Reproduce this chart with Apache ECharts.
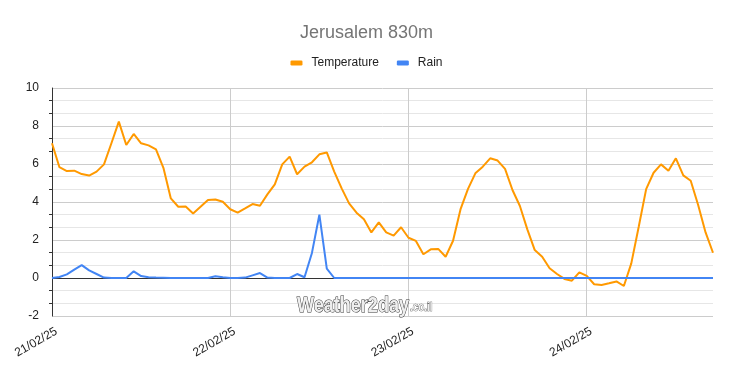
<!DOCTYPE html>
<html>
<head>
<meta charset="utf-8">
<script src="https://cdn.jsdelivr.net/npm/echarts@6/dist/echarts.min.js"></script>
<style>
html,body{margin:0;padding:0;background:#fff;}
#chart{width:733px;height:371px;}
</style>
</head>
<body>
<div id="chart"></div>
<script>
// Day labels (tick labels on the x axis) and hours per day
const dayLabels = ['21/02/25', '22/02/25', '23/02/25', '24/02/25'];
const hoursPerDay = 24;

// Hourly temperature (°C)
const temperature = [
  7.09, 5.83, 5.63, 5.65, 5.47, 5.39, 5.60, 5.98, 7.09, 8.23,
  7.00, 7.58, 7.09, 6.98, 6.77, 5.80, 4.19, 3.75, 3.76, 3.40,
  3.75, 4.10, 4.13, 4.01, 3.62, 3.44, 3.66, 3.89, 3.80, 4.40,
  4.93, 5.98, 6.39, 5.46, 5.86, 6.09, 6.51, 6.61, 5.60, 4.72,
  3.93, 3.44, 3.09, 2.40, 2.93, 2.40, 2.23, 2.67, 2.12, 1.95,
  1.25, 1.51, 1.53, 1.12, 1.96, 3.61, 4.68, 5.51, 5.86, 6.30,
  6.18, 5.74, 4.63, 3.79, 2.56, 1.47, 1.12, 0.51, 0.21, -0.05,
  -0.14, 0.30, 0.11, -0.33, -0.37, -0.28, -0.18, -0.42, 0.77, 2.70,
  4.68, 5.54, 5.98, 5.65, 6.30, 5.40, 5.12, 3.84, 2.40, 1.33
];

// Hourly rain (mm)
const rain = [
  0, 0.05, 0.19, 0.44, 0.68, 0.40, 0.21, 0.02, 0, 0,
  0, 0.35, 0.10, 0.04, 0.02, 0.01, 0, 0, 0, 0,
  0, 0, 0.09, 0.04, 0, 0, 0.02, 0.14, 0.26, 0.02,
  0, 0, 0, 0.21, 0.04, 1.32, 3.33, 0.49, 0, 0,
  0, 0, 0, 0, 0, 0, 0, 0, 0, 0,
  0, 0, 0, 0, 0, 0, 0, 0, 0, 0,
  0, 0, 0, 0, 0, 0, 0, 0, 0, 0,
  0, 0, 0, 0, 0, 0, 0, 0, 0, 0,
  0, 0, 0, 0, 0, 0, 0, 0, 0, 0
];

// Y axis ticks
const yMin = -2, yMax = 10, yStep = 2;

const categories = temperature.map((_, i) => {
  const d = Math.floor(i / hoursPerDay);
  const h = i % hoursPerDay;
  return dayLabels[d] + ' ' + String(h).padStart(2, '0') + ':00';
});

const FONT = '"Liberation Sans", Arial, sans-serif';
const chart = echarts.init(document.getElementById('chart'), null, {renderer: 'canvas'});

chart.setOption({
  animation: false,
  backgroundColor: '#ffffff',
  title: {
    text: 'Jerusalem 830m',
    left: 'center',
    top: 19,
    textStyle: {fontFamily: FONT, fontSize: 18, fontWeight: 'normal', color: '#757575'}
  },
  legend: {
    top: 52,
    left: 'center',
    icon: 'roundRect',
    itemWidth: 12,
    itemHeight: 5,
    itemGap: 18,
    textStyle: {fontFamily: FONT, fontSize: 12, color: '#222', padding: [0, 0, 0, 4]},
    data: ['Temperature', 'Rain']
  },
  grid: {left: 52, right: 20, top: 88, bottom: 55, containLabel: false},
  xAxis: {
    type: 'category',
    data: categories,
    boundaryGap: false,
    axisLine: {show: false, onZero: false},
    axisTick: {show: false},
    axisLabel: {
      interval: (idx) => idx % hoursPerDay === 0,
      formatter: (v) => v.split(' ')[0],
      rotate: 30,
      margin: 17,
      padding: [0, -5, 0, 0],
      fontFamily: FONT,
      fontSize: 12,
      color: '#222'
    },
    splitLine: {
      show: true,
      interval: (idx) => idx % hoursPerDay === 0,
      lineStyle: {color: '#cccccc', width: 1}
    }
  },
  yAxis: [
    {
      type: 'value',
      min: yMin, max: yMax, interval: yStep,
      axisLine: {show: true, lineStyle: {color: '#333', width: 1}},
      axisTick: {show: false},
      minorTick: {show: true, splitNumber: 3, length: 3, lineStyle: {color: '#333'}},
      axisLabel: {margin: 13, fontFamily: FONT, fontSize: 12, color: '#222'},
      splitLine: {show: true, lineStyle: {color: '#cccccc', width: 1}},
      minorSplitLine: {show: true, lineStyle: {color: '#e6e6e6', width: 1}}
    },
    {
      type: 'value',
      position: 'left',
      min: yMin, max: yMax, interval: yStep,
      axisLine: {show: false},
      axisTick: {show: false},
      minorTick: {show: true, splitNumber: 3, length: 3, lineStyle: {color: '#333'}},
      axisLabel: {show: false},
      splitLine: {show: false},
      minorSplitLine: {show: false}
    }
  ],
  series: [
    {
      name: 'Temperature',
      type: 'line',
      z: 2,
      data: temperature,
      showSymbol: false,
      symbol: 'none',
      lineStyle: {color: '#ff9900', width: 2},
      itemStyle: {color: '#ff9900'},
      markLine: {
        silent: true,
        symbol: 'none',
        z: 1,
        label: {show: false},
        lineStyle: {color: '#333', width: 1, type: 'solid'},
        data: [{yAxis: 0}]
      }
    },
    {
      name: 'Rain',
      type: 'line',
      z: 3,
      data: rain,
      showSymbol: false,
      symbol: 'none',
      lineStyle: {color: '#4285f4', width: 2},
      itemStyle: {color: '#4285f4'}
    }
  ],
  graphic: [
    {
      type: 'text',
      x: 297, y: 295,
      scaleX: 0.82,
      z: 100,
      style: {
        text: 'Weather2day',
        font: 'bold 22px "Liberation Sans", sans-serif',
        fill: '#eeeeee',
        stroke: '#333',
        lineWidth: 1.1,
        shadowColor: 'rgba(0,0,0,1)',
        shadowBlur: 2,
        shadowOffsetX: 2,
        shadowOffsetY: 2
      }
    },
    {
      type: 'text',
      x: 410, y: 302,
      scaleX: 0.82,
      z: 100,
      style: {
        text: '.co.il',
        font: 'bold 12px "Liberation Sans", sans-serif',
        fill: '#eeeeee',
        stroke: '#333',
        lineWidth: 0.7,
        shadowColor: 'rgba(0,0,0,1)',
        shadowBlur: 1.5,
        shadowOffsetX: 1,
        shadowOffsetY: 1
      }
    }
  ]
});
</script>
</body>
</html>
